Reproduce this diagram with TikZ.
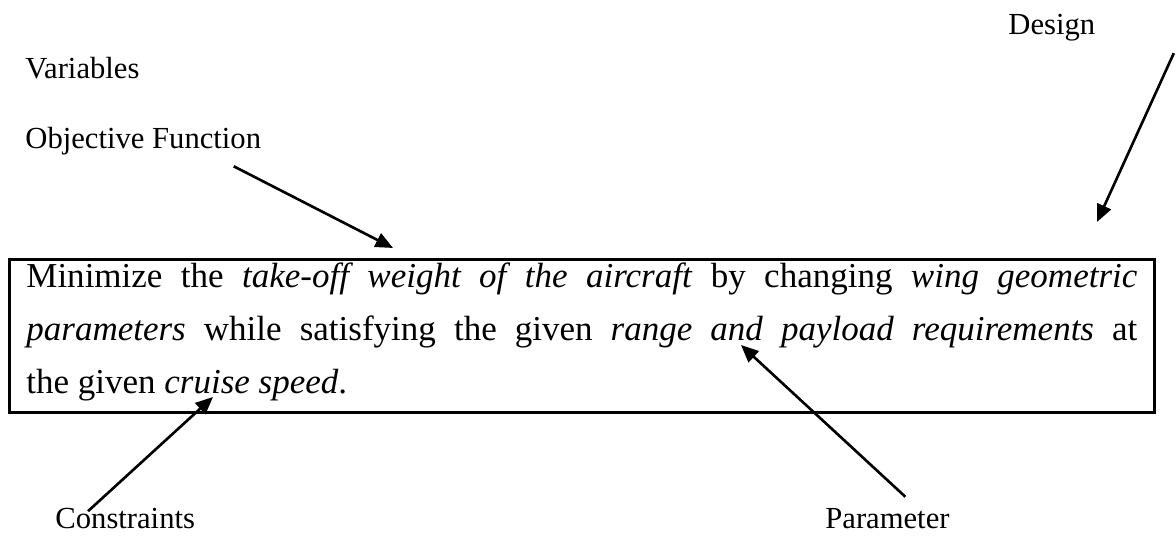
\documentclass[tikz,border=0pt]{standalone}
\usepackage{fontspec}
\setmainfont{Liberation Serif}
\usepackage{tikz}
\usetikzlibrary{arrows.meta, positioning}
\tolerance=10000
\hyphenpenalty=10000

\begin{document}
\begin{tikzpicture}[
    desc/.style={inner sep=0pt, anchor=base west, font=\fontsize{14}{17}\selectfont},
    pointer/.style={-{Triangle[length=0.28cm, width=0.24cm]}, line width=1.2pt}
  ]
  \useasboundingbox (0, 0) rectangle (18.894, -8.627);

  % Labels
  \node[desc] (design) at (16.195, -0.562) {Design};
  \node[desc] (vars) at (0.402, -1.269) {Variables};
  \node[desc] (obj) at (0.402, -2.378) {Objective Function};
  \node[desc] (constr) at (0.884, -8.499) {Constraints};
  \node[desc] (param) at (13.254, -8.499) {Parameter};

  % Problem statement
  \node[draw, line width=1.2pt, anchor=north west, text width=17.85cm, inner xsep=7.8pt, inner ysep=0pt,
        align=justify, font=\fontsize{16}{24.2}\selectfont] (statement) at (0.129, -4.145) {
    \rule{0pt}{12.8pt}Minimize the \textit{take-off weight of the aircraft} by changing \textit{wing geometric}\linebreak
    \textit{parameters} while satisfying the given \textit{range and payload requirements} at\linebreak
    the given \textit{cruise speed}.\rule[-8.7pt]{0pt}{8.7pt}
  };

  % Arrow tips
  \coordinate (objtip) at (6.314, -3.984);
  \coordinate (designtip) at (17.624, -3.567);
  \coordinate (constrtip) at (3.422, -6.378);
  \coordinate (paramtip) at (11.905, -5.543);

  \draw[pointer] ([shift={(-0.446,-0.182)}]obj.south east) -- (objtip);
  \draw[pointer] ([shift={(1.256,-0.402)}]design.east) -- (designtip);
  \draw[pointer] ([shift={(0.53,-0.047)}]constr.north west) -- (constrtip);
  \draw[pointer] ([shift={(0.288,0.188)}]param.north) -- (paramtip);
\end{tikzpicture}
\end{document}
